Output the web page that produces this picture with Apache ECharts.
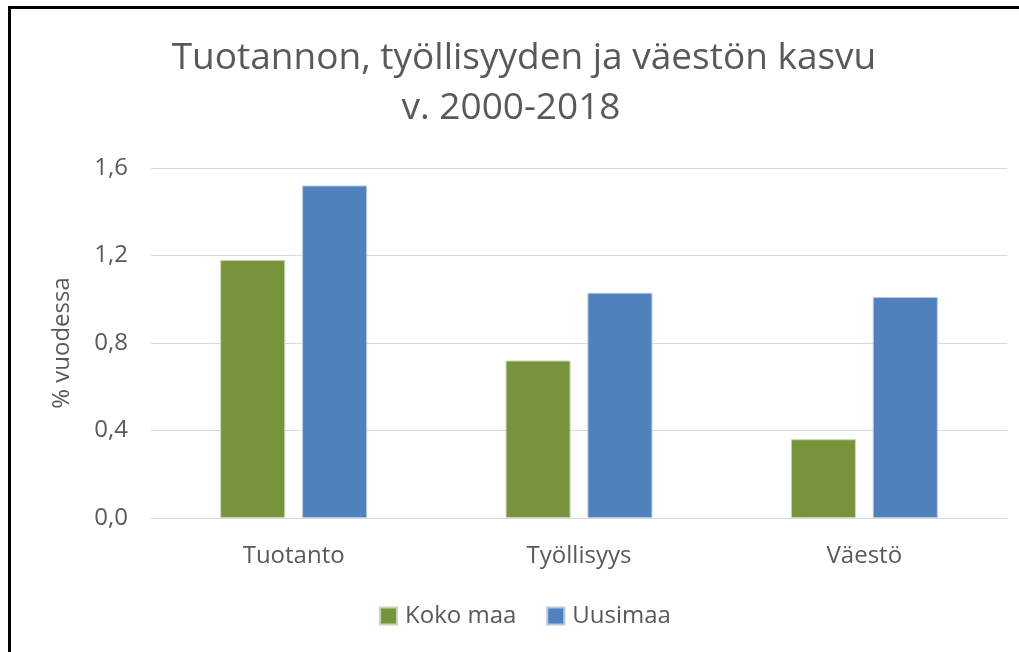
<!DOCTYPE html>
<html>
<head>
<meta charset="utf-8">
<script src="https://cdn.jsdelivr.net/npm/echarts@6/dist/echarts.min.js"></script>
<style>
  html, body { margin: 0; padding: 0; background: #fff; }
  #frame { position: absolute; left: 8px; top: 6px; width: 1100px; height: 700px;
           border-left: 3px solid #000; border-top: 3px solid #000; }
  #chart { position: absolute; left: 0; top: 0; width: 1019px; height: 652px; }
</style>
</head>
<body>
<div id="frame"></div>
<div id="chart"></div>
<script>
  const categories = ['Tuotanto', 'Työllisyys', 'Väestö'];
  const kokoMaa = [1.18, 0.72, 0.36];
  const uusimaa = [1.52, 1.03, 1.01];
  const yTicks = [0, 0.4, 0.8, 1.2, 1.6];

  const font = '"Open Sans", sans-serif';
  const grey = '#595959';
  const titleStyle = { fontFamily: font, fontSize: 37, fontWeight: 'normal', color: grey };

  const chart = echarts.init(document.getElementById('chart'), null, { renderer: 'canvas' });
  chart.setOption({
    animation: false,
    textStyle: { fontFamily: font },
    // two title lines, the first sits a little right of the second in the original
    title: [
      { text: 'Tuotannon, työllisyyden ja väestön kasvu', left: 519, textAlign: 'center', top: 35, textStyle: titleStyle },
      { text: 'v. 2000-2018', left: 506, textAlign: 'center', top: 85, textStyle: titleStyle }
    ],
    legend: {
      bottom: 19,
      left: 374,
      itemWidth: 17,
      itemHeight: 17,
      itemGap: 30,
      icon: 'rect',
      textStyle: { fontFamily: font, fontSize: 24, color: grey, padding: [0, 0, 0, 3] }
    },
    grid: { left: 151, right: 12, top: 168, bottom: 134 },
    xAxis: {
      type: 'category',
      data: categories,
      axisLine: { lineStyle: { color: '#d9d9d9', width: 1 } },
      axisTick: { show: false },
      axisLabel: { fontFamily: font, fontSize: 24, color: grey, margin: 26 }
    },
    yAxis: {
      type: 'value',
      min: yTicks[0],
      max: yTicks[yTicks.length - 1],
      interval: 0.4,
      name: '% vuodessa',
      nameLocation: 'middle',
      nameGap: 77,
      nameRotate: 90,
      nameTextStyle: { fontFamily: font, fontSize: 24, color: grey },
      axisLine: { show: false },
      axisTick: { show: false },
      splitLine: { lineStyle: { color: '#d9d9d9', width: 1 } },
      axisLabel: {
        fontFamily: font, fontSize: 24, color: grey, margin: 23,
        formatter: v => v.toFixed(1).replace('.', ',')
      }
    },
    series: [
      {
        name: 'Koko maa',
        type: 'bar',
        data: kokoMaa,
        barWidth: 65,
        barGap: '26%',
        itemStyle: { color: '#77933c', borderColor: '#c9d6b3', borderWidth: 1 }
      },
      {
        name: 'Uusimaa',
        type: 'bar',
        data: uusimaa,
        barWidth: 65,
        barGap: '26%',
        itemStyle: { color: '#4f81bd', borderColor: '#b3c8e2', borderWidth: 1 }
      }
    ]
  });
</script>
</body>
</html>
